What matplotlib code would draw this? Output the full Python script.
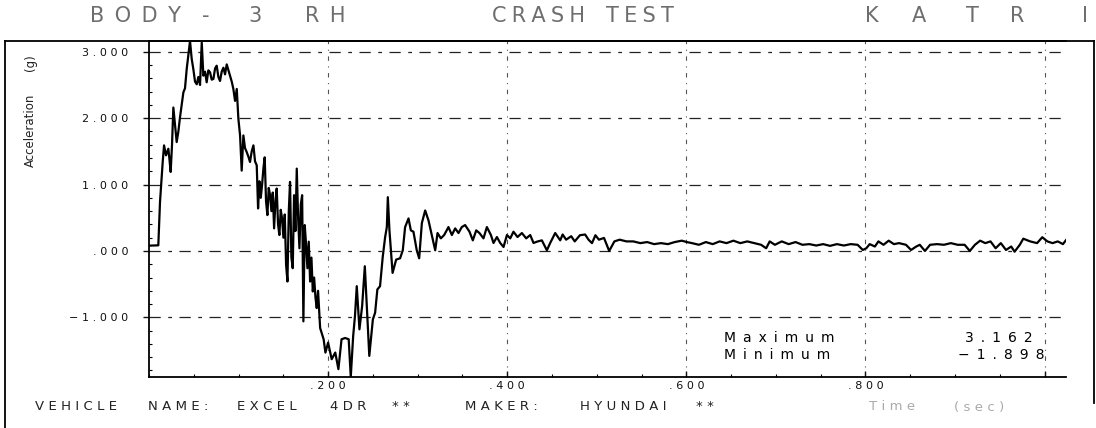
"""
Recreación del gráfico de prueba de choque: aceleración BODY-3 RH (KATRI)
Guarda out.png de 1096x428 px
"""

import matplotlib
matplotlib.use("Agg")
import matplotlib.pyplot as plt
from matplotlib.lines import Line2D
from matplotlib.ticker import FixedLocator, MultipleLocator

# ─── Datos ────────────────────────────────────────────────────────────────────
tiempo_s = [
    0.0000, 0.0104, 0.0123, 0.0153, 0.0168, 0.0190, 0.0216, 0.0227, 0.0242, 0.0257,
    0.0272, 0.0291, 0.0309, 0.0328, 0.0346, 0.0365, 0.0384, 0.0402, 0.0421, 0.0440,
    0.0458, 0.0477, 0.0495, 0.0514, 0.0533, 0.0551, 0.0570, 0.0589, 0.0607, 0.0626,
    0.0644, 0.0663, 0.0682, 0.0700, 0.0719, 0.0738, 0.0756, 0.0775, 0.0793, 0.0812,
    0.0831, 0.0849, 0.0868, 0.0887, 0.0905, 0.0924, 0.0942, 0.0961, 0.0980, 0.0998,
    0.1017, 0.1035, 0.1054, 0.1072, 0.1091, 0.1110, 0.1128, 0.1147, 0.1166, 0.1184,
    0.1203, 0.1218, 0.1233, 0.1248, 0.1263, 0.1278, 0.1292, 0.1307, 0.1322, 0.1337,
    0.1352, 0.1367, 0.1382, 0.1397, 0.1412, 0.1426, 0.1441, 0.1456, 0.1471, 0.1486,
    0.1501, 0.1516, 0.1531, 0.1546, 0.1561, 0.1575, 0.1590, 0.1605, 0.1620, 0.1635,
    0.1650, 0.1665, 0.1680, 0.1695, 0.1710, 0.1724, 0.1739, 0.1754, 0.1769, 0.1784,
    0.1799, 0.1814, 0.1829, 0.1844, 0.1859, 0.1873, 0.1888, 0.1903, 0.1911, 0.1950,
    0.1970, 0.2000, 0.2040, 0.2080, 0.2115, 0.2150, 0.2190, 0.2230, 0.2253, 0.2280,
    0.2300, 0.2320, 0.2350, 0.2380, 0.2410, 0.2460, 0.2500, 0.2525, 0.2550, 0.2580,
    0.2610, 0.2637, 0.2656, 0.2667, 0.2685, 0.2720, 0.2760, 0.2804, 0.2834, 0.2860,
    0.2898, 0.2924, 0.2953, 0.2990, 0.3017, 0.3047, 0.3084, 0.3121, 0.3158, 0.3196,
    0.3222, 0.3259, 0.3296, 0.3344, 0.3382, 0.3419, 0.3456, 0.3493, 0.3530, 0.3579,
    0.3616, 0.3654, 0.3690, 0.3735, 0.3773, 0.3818, 0.3847, 0.3885, 0.3922, 0.3959,
    0.3997, 0.4034, 0.4070, 0.4115, 0.4164, 0.4212, 0.4257, 0.4294, 0.4332, 0.4387,
    0.4443, 0.4480, 0.4536, 0.4592, 0.4619, 0.4658, 0.4715, 0.4754, 0.4812, 0.4870,
    0.4908, 0.4947, 0.4985, 0.5024, 0.5081, 0.5139, 0.5197, 0.5255, 0.5332, 0.5409,
    0.5486, 0.5563, 0.5640, 0.5717, 0.5794, 0.5871, 0.5949, 0.6006, 0.6064, 0.6141,
    0.6218, 0.6295, 0.6372, 0.6449, 0.6526, 0.6603, 0.6681, 0.6758, 0.6835, 0.6892,
    0.6931, 0.6989, 0.7066, 0.7143, 0.7220, 0.7297, 0.7374, 0.7451, 0.7528, 0.7605,
    0.7682, 0.7759, 0.7836, 0.7913, 0.7971, 0.8010, 0.8048, 0.8106, 0.8145, 0.8202,
    0.8260, 0.8318, 0.8376, 0.8453, 0.8510, 0.8568, 0.8607, 0.8665, 0.8722, 0.8799,
    0.8877, 0.8954, 0.9031, 0.9108, 0.9166, 0.9223, 0.9281, 0.9339, 0.9397, 0.9454,
    0.9512, 0.9570, 0.9628, 0.9666, 0.9724, 0.9763, 0.9840, 0.9917, 0.9975, 1.0032,
    1.0090, 1.0148, 1.0206, 1.0244,
]

aceleracion_g = [
    0.080, 0.085, 0.74, 1.34, 1.59, 1.44, 1.54, 1.40, 1.19, 1.60,
    2.16, 1.89, 1.64, 1.80, 2.01, 2.20, 2.39, 2.45, 2.74, 2.95,
    3.162, 2.89, 2.74, 2.55, 2.51, 2.62, 2.50, 3.14, 2.64, 2.70,
    2.54, 2.72, 2.69, 2.58, 2.59, 2.75, 2.79, 2.62, 2.56, 2.70,
    2.76, 2.66, 2.81, 2.72, 2.64, 2.55, 2.44, 2.26, 2.44, 1.99,
    1.74, 1.21, 1.74, 1.55, 1.49, 1.42, 1.34, 1.50, 1.59, 1.35,
    1.29, 0.64, 1.05, 0.80, 1.00, 1.25, 1.41, 0.75, 0.54, 0.95,
    0.84, 0.60, 0.88, 0.34, 0.75, 0.94, 0.40, 0.24, 0.62, 0.49,
    0.20, 0.55, -0.21, -0.46, 0.60, 1.04, -0.10, -0.26, 0.84, 0.30,
    1.24, 0.50, 0.04, 0.70, 0.84, -1.06, 0.39, 0.10, -0.26, 0.14,
    -0.46, -0.10, -0.61, -0.40, -0.70, -0.86, -0.60, -0.95, -1.16, -1.33,
    -1.53, -1.38, -1.63, -1.53, -1.78, -1.33, -1.31, -1.33, -1.898, -1.28,
    -0.98, -0.53, -1.18, -0.83, -0.23, -1.58, -1.03, -0.93, -0.58, -0.53,
    -0.09, 0.21, 0.36, 0.81, 0.31, -0.33, -0.13, -0.11, 0.01, 0.36,
    0.49, 0.31, 0.29, 0.01, -0.11, 0.42, 0.61, 0.46, 0.24, 0.01,
    0.27, 0.19, 0.24, 0.36, 0.24, 0.34, 0.27, 0.36, 0.39, 0.29,
    0.16, 0.31, 0.27, 0.19, 0.36, 0.24, 0.12, 0.21, 0.12, 0.06,
    0.24, 0.19, 0.29, 0.21, 0.27, 0.19, 0.24, 0.12, 0.14, 0.16,
    0.01, 0.12, 0.27, 0.16, 0.248, 0.170, 0.222, 0.144, 0.237, 0.248,
    0.170, 0.118, 0.237, 0.170, 0.196, 0.000, 0.144, 0.170, 0.144, 0.144,
    0.118, 0.134, 0.103, 0.118, 0.103, 0.134, 0.155, 0.134, 0.118, 0.093,
    0.134, 0.103, 0.144, 0.118, 0.155, 0.118, 0.144, 0.118, 0.093, 0.041,
    0.144, 0.093, 0.144, 0.103, 0.134, 0.093, 0.103, 0.082, 0.103, 0.077,
    0.103, 0.082, 0.103, 0.093, 0.015, 0.041, 0.103, 0.067, 0.144, 0.093,
    0.155, 0.103, 0.118, 0.093, 0.015, 0.067, 0.093, 0.000, 0.093, 0.103,
    0.093, 0.118, 0.093, 0.093, 0.000, 0.093, 0.155, 0.118, 0.144, 0.041,
    0.118, 0.015, 0.067, -0.011, 0.093, 0.185, 0.144, 0.118, 0.207, 0.144,
    0.118, 0.144, 0.103, 0.170,
]

y_ticks = [3.0, 2.0, 1.0, 0.0, -1.0]
y_etiquetas = ["3.000", "2.000", "1.000", ".000", "\u22121.000"]
x_ticks = [0.2, 0.4, 0.6, 0.8, 1.0]
x_etiquetas = [".200", ".400", ".600", ".800", ""]

maximo = 3.162
minimo = -1.898
t_fin = 1.024

# ─── Utilidades ───────────────────────────────────────────────────────────────
W, H = 1096, 428


def espaciar(s, sep="\u2004"):
    """Separación entre letras (tipo plotter)."""
    return sep.join(s)


def texto_px(fig, x, y, s, **kw):
    """Texto en coordenadas de píxel de la figura (origen arriba a la izquierda)."""
    fig.text(x / W, 1 - y / H, s, **kw)


def linea_px(fig, xs, ys, **kw):
    fig.add_artist(Line2D([x / W for x in xs], [1 - y / H for y in ys],
                          transform=fig.transFigure, **kw))


# ─── Figura ───────────────────────────────────────────────────────────────────
fig = plt.figure(figsize=(W / 100, H / 100), dpi=100)
fig.patch.set_facecolor("white")

ax = fig.add_axes([149 / W, 1 - 377 / H, (1066 - 149) / W, (377 - 41) / H])
ax.set_facecolor("white")

ax.plot(tiempo_s, aceleracion_g, color="black", linewidth=1.6, zorder=3)

ax.set_xlim(0, t_fin)
ax.set_ylim(minimo, maximo)

# Grilla horizontal (trazos) y vertical (punteada)
for v in y_ticks:
    ax.axhline(v, color="#222222", linewidth=0.9, linestyle=(0, (9, 6, 3, 6)), zorder=1)
for v in x_ticks:
    ax.axvline(v, color="#555555", linewidth=0.8, linestyle=(0, (4, 5, 1, 5)), zorder=1)

# Ejes
for lado in ["left", "bottom", "top"]:
    ax.spines[lado].set_linewidth(1.3)
    ax.spines[lado].set_color("black")
ax.spines["right"].set_visible(False)

ax.yaxis.set_major_locator(FixedLocator(y_ticks))
ax.set_yticklabels([espaciar(s) for s in y_etiquetas])
ax.xaxis.set_major_locator(FixedLocator(x_ticks))
ax.set_xticklabels([espaciar(s) for s in x_etiquetas])
ax.yaxis.set_minor_locator(MultipleLocator(0.2))
ax.xaxis.set_minor_locator(MultipleLocator(0.05))

ax.tick_params(axis="y", which="major", direction="out", length=4, width=1,
               pad=11, labelsize=8, colors="#111111")
ax.tick_params(axis="x", which="major", direction="in", length=4, width=1,
               pad=3, labelsize=8, colors="#111111")
ax.tick_params(which="minor", direction="in", length=2.5, width=0.8)

# Marco exterior
linea_px(fig, [5, 1094], [41, 41], color="black", linewidth=1.3)
linea_px(fig, [5, 5], [41, 428], color="black", linewidth=1.3)
linea_px(fig, [1094, 1094], [41, 403], color="black", linewidth=1.3)

# ─── Textos ───────────────────────────────────────────────────────────────────
gris = "#6e6e6e"
titulo = [("BODY", 90, "\u2002"), ("-", 202, ""), ("3", 248, ""), ("RH", 305, "\u2002"),
          ("CRASH", 492, "\u2005"), ("TEST", 606, "\u2005"),
          ("K", 865, ""), ("A", 912, ""), ("T", 966, ""), ("R", 1010, ""), ("I", 1082, "")]
for palabra, x, sep in titulo:
    texto_px(fig, x, 16, espaciar(palabra, sep) if sep else palabra,
             fontsize=15, color=gris, ha="left", va="center")

# Rótulo eje Y
texto_px(fig, 30, 130, "Acceleration", rotation=90, fontsize=8.5,
         ha="center", va="center", color="#222222")
texto_px(fig, 30, 63, "(g)", rotation=90, fontsize=8.5,
         ha="center", va="center", color="#222222")

# Pie
pie = [("VEHICLE", 35, "#222222"), ("NAME:", 148, "#222222"), ("EXCEL", 237, "#222222"),
       ("4DR", 330, "#222222"), ("**", 392, "#222222"), ("MAKER:", 465, "#222222"),
       ("HYUNDAI", 580, "#222222"), ("**", 696, "#222222"),
       ("Time", 869, "#aaaaaa"), ("(sec)", 954, "#aaaaaa")]
for palabra, x, color in pie:
    texto_px(fig, x, 407, espaciar(palabra), fontsize=9.5, color=color,
             ha="left", va="center")

# Máximo / mínimo
texto_px(fig, 724, 338, espaciar("Maximum", "\u2002"), fontsize=10, ha="left", va="center")
texto_px(fig, 724, 355, espaciar("Minimum", "\u2002"), fontsize=10, ha="left", va="center")
texto_px(fig, 1033, 338, espaciar(f"{maximo:.3f}", "\u2002"), fontsize=10,
         ha="right", va="center")
texto_px(fig, 1045, 355, espaciar(f"{minimo:.3f}".replace("-", "\u2212"), "\u2002"),
         fontsize=10, ha="right", va="center")

fig.savefig("out.png", dpi=100, facecolor="white")
plt.close(fig)
